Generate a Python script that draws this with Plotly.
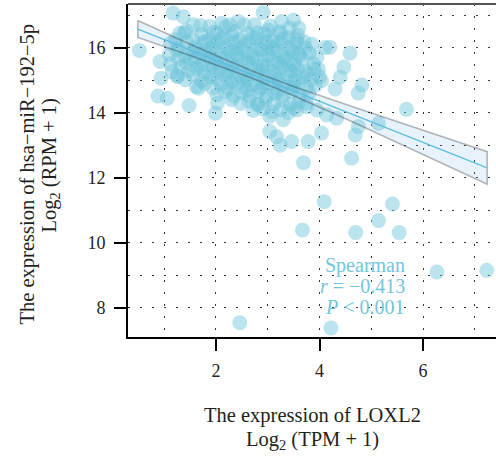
import plotly.graph_objects as go

# Samples as (LOXL2 log2(TPM+1), hsa-miR-192-5p log2(RPM+1))
core_rows = [
    (1.42, 16.52), (1.70, 16.68), (1.95, 16.47), (2.18, 16.64), (2.35, 16.50), (2.55, 16.70),
    (2.80, 16.46), (3.05, 16.66), (3.22, 16.49), (3.42, 16.60),
    (1.22, 16.24), (1.38, 16.44), (1.55, 16.27), (1.72, 16.41), (1.88, 16.22), (2.02, 16.45),
    (2.15, 16.30), (2.30, 16.40), (2.46, 16.24), (2.62, 16.43), (2.78, 16.29), (2.94, 16.42),
    (3.08, 16.21), (3.25, 16.44), (3.40, 16.30), (3.58, 16.38), (3.70, 16.18),
    (1.12, 16.13), (1.28, 15.99), (1.44, 16.17), (1.60, 16.02), (1.76, 16.15), (1.90, 15.96),
    (2.05, 16.18), (2.20, 16.01), (2.34, 16.14), (2.50, 15.98), (2.64, 16.17), (2.80, 16.03),
    (2.96, 16.15), (3.10, 15.97), (3.26, 16.16), (3.42, 16.00), (3.56, 16.14), (3.72, 15.99),
    (3.85, 16.10),
    (1.10, 15.79), (1.25, 15.92), (1.40, 15.74), (1.55, 15.88), (1.70, 15.80), (1.85, 15.71),
    (2.00, 15.91), (2.14, 15.77), (2.28, 15.86), (2.42, 15.73), (2.58, 15.89), (2.72, 15.75),
    (2.88, 15.93), (3.02, 15.79), (3.18, 15.90), (3.32, 15.72), (3.48, 15.87), (3.62, 15.76),
    (3.80, 15.84),
    (1.12, 15.50), (1.28, 15.65), (1.43, 15.53), (1.58, 15.62), (1.74, 15.49), (1.88, 15.66),
    (2.02, 15.52), (2.18, 15.61), (2.32, 15.48), (2.48, 15.66), (2.62, 15.53), (2.78, 15.62),
    (2.92, 15.47), (3.08, 15.64), (3.22, 15.52), (3.38, 15.60), (3.52, 15.49), (3.68, 15.64),
    (3.88, 15.50),
    (1.15, 15.26), (1.32, 15.40), (1.48, 15.28), (1.63, 15.37), (1.78, 15.24), (1.94, 15.41),
    (2.08, 15.33), (2.22, 15.25), (2.38, 15.40), (2.52, 15.27), (2.68, 15.36), (2.82, 15.23),
    (2.98, 15.39), (3.12, 15.26), (3.28, 15.42), (3.42, 15.29), (3.58, 15.35), (3.74, 15.25),
    (3.90, 15.34),
    (1.25, 15.13), (1.40, 15.01), (1.56, 15.16), (1.72, 14.99), (1.88, 15.10), (2.03, 15.02),
    (2.18, 15.15), (2.32, 14.98), (2.48, 15.08), (2.62, 15.00), (2.78, 15.17), (2.92, 15.03),
    (3.08, 15.11), (3.22, 14.97), (3.38, 15.14), (3.52, 15.00), (3.68, 15.09), (3.84, 15.01),
    (4.00, 15.10),
    (1.62, 14.80), (1.78, 14.90), (1.94, 14.76), (2.10, 14.88), (2.24, 14.74), (2.40, 14.91),
    (2.55, 14.79), (2.70, 14.86), (2.85, 14.75), (3.00, 14.89), (3.15, 14.76), (3.30, 14.85),
    (3.45, 14.78), (3.60, 14.91), (3.75, 14.77), (3.92, 14.84),
    (2.02, 14.55), (2.18, 14.65), (2.34, 14.52), (2.50, 14.61), (2.66, 14.51), (2.82, 14.66),
    (2.98, 14.50), (3.14, 14.60), (3.30, 14.53), (3.46, 14.66), (3.62, 14.52), (3.80, 14.62),
    (2.30, 14.40), (2.48, 14.28), (2.64, 14.36), (2.80, 14.26), (2.96, 14.41), (3.12, 14.27),
    (3.28, 14.38), (3.44, 14.25), (3.60, 14.33), (3.74, 14.30),
    (2.72, 14.07), (2.90, 14.12), (3.08, 14.03), (3.24, 14.09), (3.40, 14.00), (3.56, 14.08),
]

core_dense = [
    (1.80, 16.20), (2.10, 16.28), (2.40, 16.18), (2.70, 16.30), (3.00, 16.19), (3.30, 16.27),
    (1.65, 15.95), (1.95, 16.03), (2.25, 15.93), (2.55, 16.06), (2.85, 15.94), (3.15, 16.05),
    (3.45, 15.92),
    (1.50, 15.68), (1.80, 15.79), (2.10, 15.66), (2.40, 15.81), (2.70, 15.68), (3.00, 15.78),
    (3.30, 15.65), (3.60, 15.80),
    (1.70, 15.43), (2.00, 15.51), (2.30, 15.44), (2.60, 15.55), (2.90, 15.42), (3.20, 15.53),
    (3.50, 15.44),
    (1.95, 15.19), (2.25, 15.28), (2.55, 15.17), (2.85, 15.29), (3.15, 15.18), (3.45, 15.27),
    (3.75, 15.17),
    (2.30, 14.94), (2.60, 15.02), (2.90, 14.92), (3.20, 15.03), (3.50, 14.93),
    (2.60, 14.70), (2.90, 14.78), (3.20, 14.68), (3.50, 14.76),
]

fringe = [
    (0.52, 15.91), (1.17, 17.06), (1.37, 16.95), (2.91, 17.08), (1.56, 16.70), (1.88, 16.65),
    (2.11, 16.75), (2.27, 16.70), (2.43, 16.80), (2.75, 16.70), (3.01, 16.54), (3.27, 16.80),
    (3.50, 16.85), (3.60, 16.60), (3.56, 16.24), (1.30, 16.44),
    (0.92, 15.57), (0.94, 15.06), (1.26, 15.11), (0.88, 14.51), (1.06, 14.44), (1.48, 14.22),
    (1.99, 13.98), (2.03, 14.29), (1.66, 14.75),
    (2.82, 14.24), (3.04, 13.88), (3.04, 13.42), (3.17, 13.26), (3.24, 13.00), (3.30, 13.78),
    (3.46, 13.11), (3.78, 13.11), (3.69, 12.46), (4.04, 13.37), (4.14, 13.93), (4.62, 12.60),
    (4.69, 13.31), (4.75, 13.57), (5.14, 13.67), (3.95, 14.08), (3.75, 14.18), (3.50, 14.13),
    (4.33, 13.83), (4.59, 15.83), (4.82, 14.85), (4.75, 14.60), (5.68, 14.10),
    (4.20, 16.01), (4.11, 16.00), (4.47, 15.40), (4.40, 15.09), (4.30, 14.73), (3.95, 15.70),
    (3.98, 15.34), (4.04, 14.98),
]

outliers = [
    (4.09, 11.26), (5.41, 11.19), (5.14, 10.68), (3.67, 10.39), (4.70, 10.31), (5.54, 10.31),
    (6.27, 9.10), (7.23, 9.15), (2.46, 7.54), (4.22, 7.38),
]

# Linear fit with its 95% confidence band
fit_x = [0.49, 1.5, 2.7, 3.5, 4.6, 6.0, 7.24]
fit_y = [16.57, 15.93, 15.17, 14.66, 13.97, 13.08, 12.30]
ci_hi = [16.83, 16.10, 15.28, 14.80, 14.20, 13.45, 12.80]
ci_lo = [16.31, 15.76, 15.06, 14.52, 13.74, 12.71, 11.80]

x_ticks = [2, 4, 6]
y_ticks = [8, 10, 12, 14, 16]

samples = core_rows + core_dense + fringe + outliers
loxl2 = [p[0] for p in samples]
mir192 = [p[1] for p in samples]

SERIF = "Liberation Serif"
INK = "#231f20"
ACCENT = "#72c6dc"

fig = go.Figure()

fig.add_trace(go.Scatter(
    x=loxl2, y=mir192, mode="markers",
    marker=dict(size=15, color="rgba(110,196,219,0.46)", line=dict(width=0)),
    hoverinfo="skip", showlegend=False,
))

band_x = fit_x + fit_x[::-1] + [fit_x[0]]
band_y = ci_hi + ci_lo[::-1] + [ci_hi[0]]
fig.add_trace(go.Scatter(
    x=band_x, y=band_y, mode="lines", fill="toself",
    fillcolor="rgba(100,170,220,0.15)",
    line=dict(color="rgba(0,0,0,0.27)", width=1.6),
    hoverinfo="skip", showlegend=False,
))

fig.add_trace(go.Scatter(
    x=fit_x, y=fit_y, mode="lines",
    line=dict(color="#5bc0de", width=1.3),
    hoverinfo="skip", showlegend=False,
))

grid_style = dict(showgrid=True, gridcolor="#3a3a3a", gridwidth=1, griddash="2px,10px")

fig.update_xaxes(
    range=[0.30, 7.41], tickvals=x_ticks, ticktext=[str(v) for v in x_ticks],
    ticks="outside", ticklen=12, tickwidth=2, tickcolor="black",
    showline=True, linecolor="black", linewidth=2, zeroline=False,
    tickfont=dict(family=SERIF, size=18, color=INK), ticklabelstandoff=4,
    minor=dict(tickvals=[1, 3, 5, 7], ticks="", **grid_style),
    **grid_style,
)
fig.update_yaxes(
    range=[7.10, 17.34], tickvals=y_ticks, ticktext=[str(v) for v in y_ticks],
    ticks="outside", ticklen=12, tickwidth=2, tickcolor="black",
    showline=True, linecolor="black", linewidth=2, zeroline=False,
    tickfont=dict(family=SERIF, size=18, color=INK), ticklabelstandoff=5,
    minor=dict(tickvals=[9, 11, 13, 15, 17], ticks="", **grid_style),
    **grid_style,
)

# top frame edge
fig.add_shape(type="line", xref="paper", yref="paper", x0=0, x1=1, y0=1, y1=1,
              line=dict(color="#555555", width=2))

stats = ["Spearman", "<i>r</i> = −0.413", "<i>P</i> &lt; 0.001"]
stat_y = [9.31, 8.66, 8.02]
for txt, yy in zip(stats, stat_y):
    fig.add_annotation(x=5.69, y=yy, xref="x", yref="y", text=txt, showarrow=False,
                       xanchor="right", yanchor="middle",
                       font=dict(family=SERIF, size=20, color=ACCENT))

title_font = dict(family=SERIF, size=20.5, color=INK)
fig.add_annotation(x=0.5, y=0, xref="paper", yref="paper", text="The expression of LOXL2",
                   showarrow=False, yanchor="middle", yshift=-78, font=title_font)
fig.add_annotation(x=0.5, y=0, xref="paper", yref="paper", text="Log<sub>2</sub> (TPM + 1)",
                   showarrow=False, yanchor="middle", yshift=-103, font=title_font)
fig.add_annotation(x=0, y=0.5, xref="paper", yref="paper",
                   text="The expression of hsa−miR−192−5p", textangle=-90,
                   showarrow=False, xanchor="center", yanchor="middle",
                   xshift=-101, yshift=-4, font=title_font)
fig.add_annotation(x=0, y=0.5, xref="paper", yref="paper",
                   text="Log<sub>2</sub> (RPM + 1)", textangle=-90,
                   showarrow=False, xanchor="center", yanchor="middle",
                   xshift=-78, yshift=5, font=title_font)

fig.update_layout(
    width=496, height=457,
    margin=dict(l=128, r=0, t=4, b=120),
    paper_bgcolor="white", plot_bgcolor="white",
    showlegend=False,
)

fig.write_html("out.html")
